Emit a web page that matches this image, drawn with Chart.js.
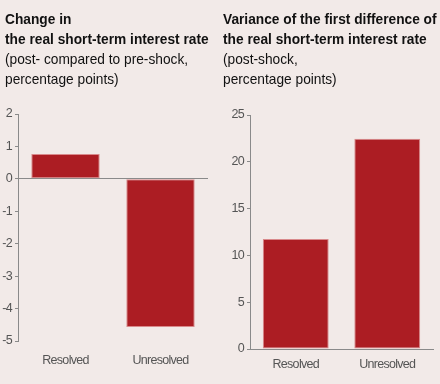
<!DOCTYPE html>
<html>
<head>
<meta charset="utf-8">
<script src="https://cdn.jsdelivr.net/npm/chart.js@4.4.1/dist/chart.umd.min.js"></script>
<style>
  html, body { margin: 0; padding: 0; background: #f2eae8; }
  body { width: 440px; height: 384px; position: relative; overflow: hidden; }
  .title { position: absolute; top: 9px; font-family: "Liberation Sans", Arial, sans-serif; font-size: 15px; line-height: 20px; color: #111; white-space: nowrap; transform: scaleX(0.915); transform-origin: 0 0; z-index: 2; }
  .title b { font-weight: bold; }
  #t1 { left: 5px; }
  #t2 { left: 223px; }
  .wrap { position: absolute; top: 0; width: 220px; height: 384px; }
  #w1 { left: 0; }
  #w2 { left: 220px; }
</style>
</head>
<body>
<div class="title" id="t1"><b>Change in<br>the real short-term interest rate</b><br>(post- compared to pre-shock,<br>percentage points)</div>
<div class="title" id="t2"><b>Variance of the first difference of<br>the real short-term interest rate</b><br>(post-shock,<br>percentage points)</div>
<div class="wrap" id="w1"><canvas id="c1" width="220" height="384"></canvas></div>
<div class="wrap" id="w2"><canvas id="c2" width="220" height="384"></canvas></div>
<script>
const categories = ["Resolved", "Unresolved"];
const changeValues = [0.77, -4.57];
const varianceValues = [11.75, 22.45];
const changeTicks = [2, 1, 0, -1, -2, -3, -4, -5];
const varianceTicks = [25, 20, 15, 10, 5, 0];

const BAR = "#ac1d23";
const BAR_EDGE = "#d9898b";
const AXIS = "#8a8a8a";
const TICK_TXT = "#555555";
const tickFont = { family: "'Liberation Sans', Arial, sans-serif", size: 12.5 };

const narrowText = {
  id: "narrowText",
  beforeDraw(chart) { chart.ctx.letterSpacing = "-0.7px"; }
};

function makeChart(id, values, yMin, yMax, step, opts) {
  return new Chart(document.getElementById(id), {
    type: "bar",
    data: {
      labels: categories,
      datasets: [{
        data: values,
        backgroundColor: BAR,
        borderColor: BAR_EDGE,
        borderWidth: 1,
        borderSkipped: false,
        barPercentage: 0.72,
        categoryPercentage: 1.0
      }]
    },
    plugins: [narrowText],
    options: {
      responsive: false,
      animation: false,
      devicePixelRatio: 1,
      layout: { padding: opts.padding },
      plugins: { legend: { display: false }, tooltip: { enabled: false }, title: { display: false } },
      scales: {
        x: {
          grid: { display: false, drawTicks: false },
          border: { display: opts.xBorder, color: AXIS, width: 1 },
          ticks: { color: TICK_TXT, font: tickFont, padding: opts.xPad, maxRotation: 0 }
        },
        y: {
          min: yMin, max: yMax,
          afterFit: s => { s.width = opts.yWidth; },
          afterBuildTicks: s => { s.ticks = opts.ticks.map(v => ({ value: v })); },
          grid: {
            drawOnChartArea: opts.zeroLine,
            color: c => (c.tick && c.tick.value === 0 && opts.zeroLine) ? AXIS : "rgba(0,0,0,0)",
            tickColor: AXIS,
            tickLength: 3,
            lineWidth: 1
          },
          border: { display: true, color: AXIS, width: 1 },
          ticks: { color: TICK_TXT, font: tickFont, padding: 3, stepSize: step }
        }
      }
    }
  });
}

makeChart("c1", changeValues, -5, 2, 1, {
  padding: { top: 114, right: 12, bottom: 4, left: 0 },
  xBorder: false, xPad: 12, yWidth: 18, zeroLine: true, ticks: changeTicks
});
makeChart("c2", varianceValues, 0, 25, 5, {
  padding: { top: 115, right: 7, bottom: 4, left: 0 },
  xBorder: true, xPad: 8, yWidth: 30, zeroLine: false, ticks: varianceTicks
});
</script>
</body>
</html>
